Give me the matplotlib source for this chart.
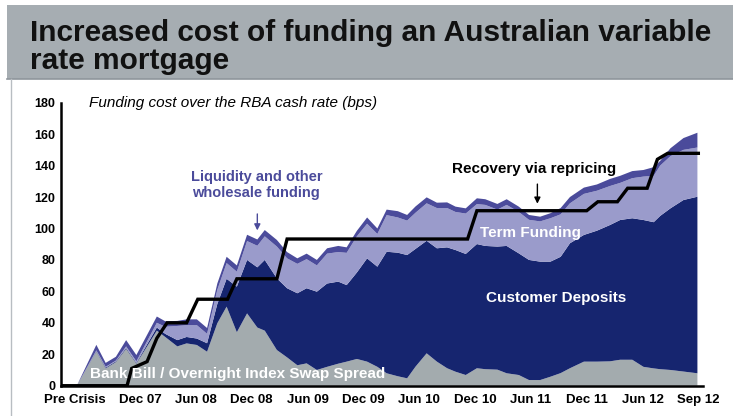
import matplotlib.pyplot as plt
from matplotlib.patches import Rectangle
from matplotlib.lines import Line2D

# months from Dec 07 (Pre Crisis sits left of zero)
mois = [-8.4, -6.8, -4.7, -3.7, -2.6, -1.5, -0.4, 1.8, 2.7, 4.0, 5.0, 6.1, 7.2,
        8.3, 9.3, 10.4, 11.5, 12.6, 13.4, 14.7, 15.8, 16.9, 17.9, 19.0, 20.1,
        21.3, 22.2, 23.3, 24.4, 25.5, 26.5, 27.7, 28.7, 29.6, 30.8, 31.9, 33.0,
        33.9, 35.0, 36.2, 37.1, 38.4, 39.4, 40.7, 41.8, 43.0, 44.1, 45.2, 46.2,
        47.7, 49.1, 50.5, 51.6, 52.9, 54.1, 55.2, 55.9, 57.0, 58.4, 59.9]

# cumulative tops of each layer (bps)
haut_bank = [0, 0, 21.6, 11, 15, 23.4, 14, 35, 31, 25, 26.9, 25.9, 21.6,
             39.7, 50.3, 34, 46, 37, 35, 22.7, 18, 13, 14.2, 10, 12,
             14, 15.3, 17, 15.3, 12, 7.9, 6, 4.7, 12.1, 20.6, 15.3, 11.1,
             8.9, 6.8, 11.1, 10.5, 10.2, 7.9, 6.8, 3.6, 3.6, 5.7, 8, 11.1,
             15.3, 15.3, 15.5, 16.5, 16.5, 12, 11, 10.5, 10, 9, 7.9]
haut_depots = [0, 0, 22, 11.5, 15.5, 24, 14.5, 37, 33, 29, 31, 30, 27,
               52, 68, 63, 80, 75.3, 80, 68.3, 62, 58.8, 62, 59.8, 65,
               66.2, 64, 72, 81, 75.7, 85.2, 84.6, 83.1, 87, 92.2, 87.4, 88,
               86.3, 83.8, 90.1, 88.9, 88.5, 88.9, 84.2, 80, 78.9, 78.9, 82, 90.6,
               95.9, 98.6, 102.2, 105.4, 106.5, 105.4, 104, 108, 112.8, 118.1, 120.2]
haut_terme = [0, 0, 22.5, 12, 16, 25, 15.5, 40, 37.5, 38, 38.5, 38.5, 33,
              61, 78, 72.5, 92, 89, 95, 88.5, 81, 77.5, 80.5, 76.5, 84,
              85, 84.5, 95, 103, 96.5, 108.5, 107, 105, 110, 116, 113, 113,
              110.5, 109.5, 115.5, 115, 112, 115, 110.5, 105.5, 104.5, 106.5, 109, 116,
              122, 124, 127, 129, 132, 133, 133.5, 140, 146, 150, 151.5]
haut_liquid = [0, 0, 26, 14.5, 18.4, 29, 19.5, 44, 41, 41.2, 42.2, 42.2, 36.7,
               65, 82, 76.5, 96, 93, 99, 92.7, 85, 81, 84, 80, 87.4,
               88.9, 88, 98.5, 107, 100, 112, 111, 108.6, 114, 119.8, 116.4, 116.6,
               113.9, 112.8, 119.2, 118.6, 115.6, 118.6, 113.9, 108.6, 107.5, 109.7, 113, 120,
               126, 128, 131.5, 133.5, 136.5, 137.2, 139, 143, 151, 157.5, 160.9]

# repricing step line
mois_prix = [-8.4, -1.4, -0.9, 0.75, 1.8, 2.9, 5.0, 6.2, 9.4, 10.4, 14.7, 15.8,
             35.2, 36.2, 48.0, 49.2, 51.3, 52.4, 54.5, 55.6, 56.7, 60.0]
prix = [0, 0, 11, 15.3, 30.2, 40, 40, 55, 55, 68, 68, 93.3,
        93.3, 111.3, 111.3, 117, 117, 125.6, 125.6, 144, 147.8, 147.8]

ticks_pos = [-7, 0, 6, 12, 18, 24, 30, 36, 42, 48, 54, 60]
ticks_lab = ['Pre Crisis', 'Dec 07', 'Jun 08', 'Dec 08', 'Jun 09', 'Dec 09',
             'Jun 10', 'Dec 10', 'Jun 11', 'Dec 11', 'Jun 12', 'Sep 12']

# epaisseurs des couches
bank = haut_bank
depots = [b - a for a, b in zip(haut_bank, haut_depots)]
terme = [b - a for a, b in zip(haut_depots, haut_terme)]
liquid = [b - a for a, b in zip(haut_terme, haut_liquid)]

plt.rcParams['font.family'] = ['Liberation Sans', 'DejaVu Sans']

fig = plt.figure(figsize=(7.33, 4.16), dpi=100)

# bandeau du titre
fig.patches.append(Rectangle((7 / 733, 1 - 79 / 416), 1, 74 / 416, transform=fig.transFigure,
                             facecolor='#a6adb2', edgecolor='none', zorder=0))
fig.lines.append(Line2D([7 / 733, 1], [1 - 79 / 416] * 2, transform=fig.transFigure,
                        color='#8f969c', lw=1.2))
fig.lines.append(Line2D([10.5 / 733] * 2, [0, 1 - 79 / 416], transform=fig.transFigure,
                        color='#b8bdc2', lw=1))
fig.text(30 / 733, 1 - 41 / 416, 'Increased cost of funding an Australian variable',
         fontsize=21.5, fontweight='bold', va='baseline', ha='left', color='#111111')
fig.text(30 / 733, 1 - 69 / 416, 'rate mortgage',
         fontsize=21.5, fontweight='bold', va='baseline', ha='left', color='#111111')

ax = fig.add_axes([61 / 733, (416 - 385.7) / 416, (703 - 61) / 733, 283 / 416])
ax.stackplot(mois, bank, depots, terme, liquid,
             colors=['#a3abae', '#16256f', '#9a9bcb', '#4b4b9b'], linewidth=0)
ax.plot(mois_prix, prix, color='black', lw=2.4, solid_joinstyle='miter', zorder=5)

ax.set_xlim(-8.5, 60.5)
ax.set_ylim(0, 180)
ax.set_yticks(range(0, 181, 20))
ax.set_xticks(ticks_pos)
ax.set_xticklabels(ticks_lab)
ax.tick_params(length=0, labelsize=9, pad=4)
ax.tick_params(axis='x', labelsize=9.5, pad=6)
for lab in ax.get_xticklabels() + ax.get_yticklabels():
    lab.set_fontweight('bold')
for s in ['top', 'right']:
    ax.spines[s].set_visible(False)
for s in ['left', 'bottom']:
    ax.spines[s].set_linewidth(1.8)
ax.set_facecolor('none')

ax.text(-5.5, 179.5, 'Funding cost over the RBA cash rate (bps)', fontsize=11, style='italic',
        va='center', ha='left')
ax.text(12.5, 127.5, 'Liquidity and other\nwholesale funding', fontsize=10.5, fontweight='bold',
        color='#4b4b9b', ha='center', va='center', linespacing=1.15)
ax.annotate('', xy=(12.6, 97), xytext=(12.6, 111),
            arrowprops=dict(arrowstyle='-|>', color='#4b4b9b', lw=1, mutation_scale=9))
ax.text(42.3, 138, 'Recovery via repricing', fontsize=11, fontweight='bold', ha='center', va='center')
ax.annotate('', xy=(42.7, 114), xytext=(42.7, 130),
            arrowprops=dict(arrowstyle='-|>', color='black', lw=1, mutation_scale=9))
ax.text(42.0, 97, 'Term Funding', fontsize=11, fontweight='bold', color='white', ha='center', va='center')
ax.text(44.7, 56, 'Customer Deposits', fontsize=11, fontweight='bold', color='white', ha='center', va='center')
ax.text(-5.4, 7.5, 'Bank Bill / Overnight Index Swap Spread', fontsize=11, fontweight='bold',
        color='white', ha='left', va='center', zorder=6)

plt.savefig('out.png', dpi=100)
